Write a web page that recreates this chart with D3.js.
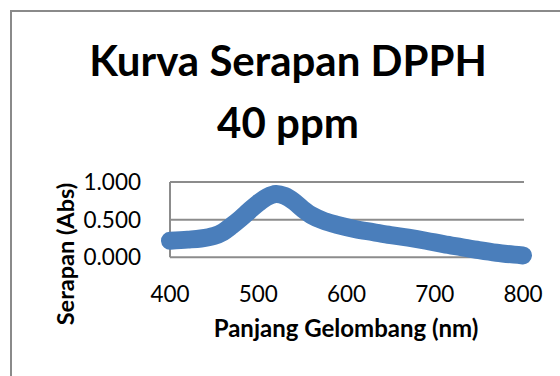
<!DOCTYPE html>
<html>
<head>
<meta charset="utf-8">
<script src="https://cdn.jsdelivr.net/npm/d3@7/dist/d3.min.js"></script>
<style>
  html, body { margin: 0; padding: 0; background: #fff; }
  svg { display: block; }
  text { font-family: Lato, "Open Sans", sans-serif; fill: #000; }
</style>
</head>
<body>
<svg id="chart" width="560" height="376"></svg>
<script>
// Data
const titleLines = ["Kurva Serapan DPPH", "40 ppm"];
const xTitle = "Panjang Gelombang (nm)";
const yTitle = "Serapan (Abs)";
const wavelength = [400, 420, 435, 450, 460, 470, 480, 490, 500, 510, 520, 530, 540, 550, 560, 575, 590, 610, 630, 650, 670, 690, 710, 730, 750, 770, 790, 800];
const absorbance = [0.22, 0.235, 0.25, 0.285, 0.335, 0.42, 0.515, 0.62, 0.72, 0.80, 0.84, 0.815, 0.745, 0.645, 0.56, 0.48, 0.43, 0.375, 0.335, 0.295, 0.26, 0.22, 0.175, 0.135, 0.095, 0.06, 0.035, 0.025];
const xTicks = [400, 500, 600, 700, 800];
const yTicks = [0, 0.5, 1.0];

const svg = d3.select("#chart");

// chart border (extends beyond the visible window on right and bottom)
svg.append("rect")
  .attr("x", 11).attr("y", 11)
  .attr("width", 600).attr("height", 400)
  .attr("fill", "none")
  .attr("stroke", "#8a8a8a")
  .attr("stroke-width", 2);

const x = d3.scaleLinear().domain([400, 800]).range([170, 523]);
const y = d3.scaleLinear().domain([0, 1]).range([257.3, 182]);

// gridlines
svg.append("g").selectAll("line").data(yTicks).join("line")
  .attr("x1", 170).attr("x2", 524)
  .attr("y1", d => y(d)).attr("y2", d => y(d))
  .attr("stroke", "#8c8c8c").attr("stroke-width", 2);

// y axis line
svg.append("line")
  .attr("x1", 170).attr("x2", 170)
  .attr("y1", y(1)).attr("y2", y(0))
  .attr("stroke", "#8c8c8c").attr("stroke-width", 2);

// y tick labels
svg.append("g").selectAll("text").data(yTicks).join("text")
  .attr("x", 141)
  .attr("y", d => y(d) + 8)
  .attr("text-anchor", "end")
  .attr("font-size", 22.5)
  .text(d => d3.format(".3f")(d));

// x tick labels
svg.append("g").selectAll("text").data(xTicks).join("text")
  .attr("x", d => x(d))
  .attr("y", 302)
  .attr("text-anchor", "middle")
  .attr("font-size", 22.5)
  .text(d => d);

// line
const line = d3.line()
  .x((d, i) => x(wavelength[i]))
  .y(d => y(d))
  .curve(d3.curveCatmullRom.alpha(0.5));

svg.append("path")
  .datum(absorbance)
  .attr("d", line)
  .attr("fill", "none")
  .attr("stroke", "#4a7ebb")
  .attr("stroke-width", 18)
  .attr("stroke-linejoin", "round")
  .attr("stroke-linecap", "round");

// title
svg.append("g").selectAll("text").data(titleLines).join("text")
  .attr("x", 288)
  .attr("y", (d, i) => 76 + i * 62)
  .attr("text-anchor", "middle")
  .attr("font-size", 42)
  .attr("font-weight", "bold")
  .text(d => d);

// axis titles
svg.append("text")
  .attr("x", 346).attr("y", 337)
  .attr("text-anchor", "middle")
  .attr("font-size", 24)
  .attr("font-weight", "bold")
  .text(xTitle);

svg.append("text")
  .attr("transform", "translate(74,254) rotate(-90)")
  .attr("text-anchor", "middle")
  .attr("font-size", 23.5)
  .attr("font-weight", "bold")
  .text(yTitle);
</script>
</body>
</html>
